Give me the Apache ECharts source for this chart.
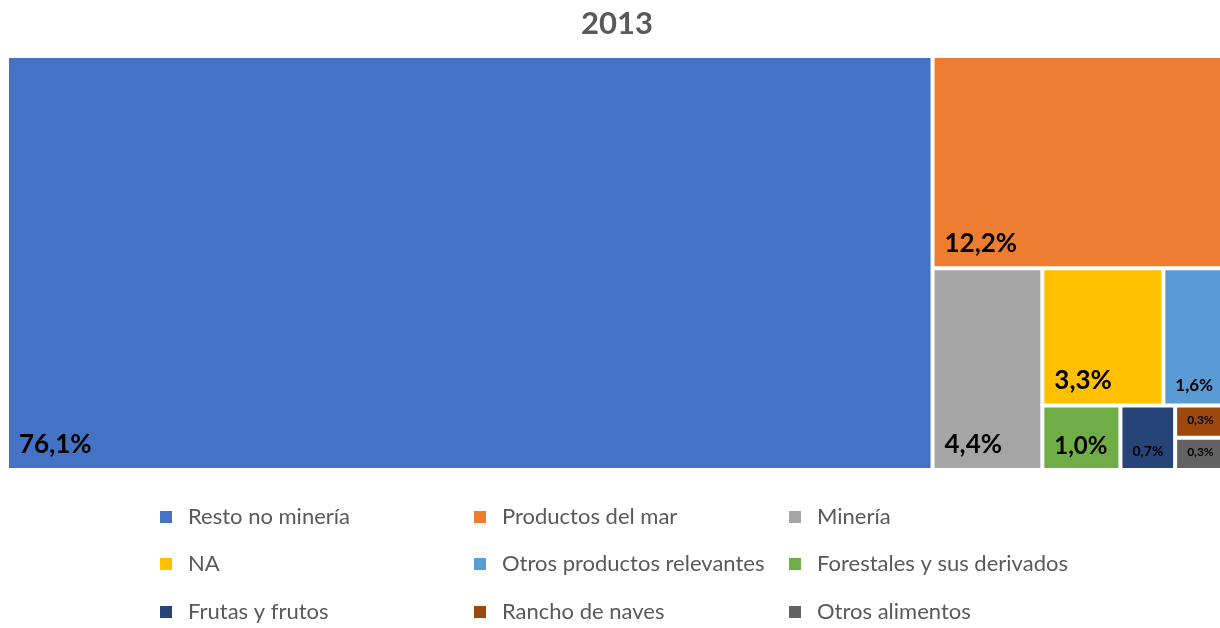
<!DOCTYPE html>
<html>
<head>
<meta charset="utf-8">
<title>2013</title>
<script src="https://cdn.jsdelivr.net/npm/echarts@6/dist/echarts.min.js"></script>
<style>
    html, body { margin: 0; padding: 0; background: #fff; }
    #chart { width: 1220px; height: 628px; }
</style>
</head>
<body>
<div id="chart"></div>
<script>
    // participación 2013 (%)
    let categories = ['Resto no minería', 'Productos del mar', 'Minería', 'NA', 'Otros productos relevantes',
        'Forestales y sus derivados', 'Frutas y frutos', 'Rancho de naves', 'Otros alimentos']
    let shares = [76.1, 12.2, 4.4, 3.3, 1.6, 1.0, 0.7, 0.3, 0.3]

    // colores tipo Office
    let palette = ['#4472C4', '#ED7D31', '#A5A5A5', '#FFC000', '#5B9BD5', '#70AD47', '#264478', '#9E480E', '#636363']
    // tamaño de etiqueta según el rectángulo
    let labelSizes = [26, 26, 26, 26, 17, 24, 14, 12, 12]

    // orden para el treemap: en empate echarts pone primero el último índice
    let treeOrder = [0, 1, 2, 3, 4, 5, 6, 8, 7]

    // leyenda: 3 columnas x 3 filas
    let legendColX = [160, 474, 789]
    let legendRowY = [517, 564, 612]

    let fmt = v => v.toFixed(1).replace('.', ',') + '%'

    let chart = echarts.init(document.getElementById('chart'))

    let option = {
        title: {
            text: '2013',
            left: 576,
            top: 3,
            textStyle: {fontFamily: 'Lato', fontSize: 31, fontWeight: 'bold', color: '#595959'}
        },
        // una leyenda por elemento para fijar la rejilla
        legend: categories.map((name, i) => ({
            left: legendColX[i % 3],
            top: legendRowY[Math.floor(i / 3)] - 11,
            padding: 0,
            itemWidth: 12,
            itemHeight: 12,
            icon: 'rect',
            selectedMode: false,
            textStyle: {fontFamily: 'Lato', fontSize: 22, color: '#595959', padding: [0, 0, 0, 11]},
            data: [name]
        })),
        series: [
            {
                type: 'treemap',
                left: 9,
                top: 58,
                right: 0,
                bottom: 160,
                roam: false,
                nodeClick: false,
                silent: true,
                breadcrumb: {show: false},
                squareRatio: 1.0983,
                levels: [{itemStyle: {gapWidth: 4, borderWidth: 0}}],
                label: {
                    position: 'insideBottomLeft',
                    distance: 5,
                    color: '#000',
                    fontFamily: 'Lato',
                    fontWeight: 'bold',
                    formatter: p => fmt(p.value)
                },
                data: treeOrder.map(i => ({
                    name: categories[i],
                    value: shares[i],
                    itemStyle: {color: palette[i], borderWidth: 0},
                    label: {fontSize: labelSizes[i]}
                }))
            },
            // serie vacía solo para dar colores a la leyenda
            {
                type: 'pie',
                radius: 0,
                center: [-50, -50],
                silent: true,
                label: {show: false},
                labelLine: {show: false},
                data: categories.map((name, i) => ({
                    name: name,
                    value: shares[i],
                    itemStyle: {color: palette[i]}
                }))
            }
        ]
    }

    chart.setOption(option)
</script>
</body>
</html>
